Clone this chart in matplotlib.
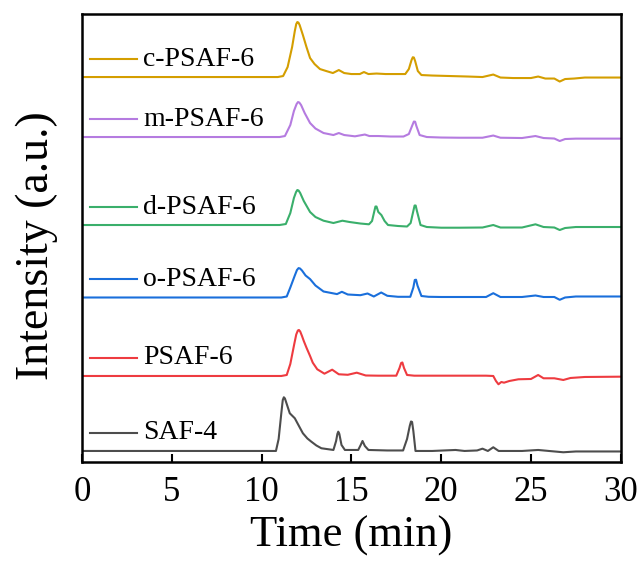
import matplotlib
matplotlib.use('Agg')
import matplotlib.pyplot as plt

# 样品名称 (从下到上)
names = ['SAF-4', 'PSAF-6', 'o-PSAF-6', 'd-PSAF-6', 'm-PSAF-6', 'c-PSAF-6']
colors = ['#4D4D4D', '#EE3B40', '#1A6FDB', '#3AAF6B', '#B57BE0', '#D49E00']

# 各曲线的 时间(min) / 强度(a.u., 相对基线)
t_saf4 = [0, 10.8, 10.95, 11.1, 11.18, 11.24, 11.3, 11.4, 11.57, 11.85, 12.05, 12.3, 12.55, 12.77, 13.05,
          13.33, 14.0, 14.15, 14.22, 14.27, 14.33, 14.45, 14.64, 15.38, 15.52, 15.62, 15.75, 15.95, 17.0,
          17.88, 18.1, 18.25, 18.32, 18.38, 18.45, 18.57, 19.5, 20.8, 21.3, 22.0, 22.3, 22.6, 22.9, 23.2,
          24.5, 25.4, 26.0, 26.8, 27.5, 30]
i_saf4 = [0, 0, 12, 38, 51, 53.7, 52.5, 47, 37.7, 32.7, 26, 17.7, 12.5, 9.3, 5.5,
          2.7, 1, 10, 17, 19.3, 17, 6, 1, 1, 6, 10, 5, 1, 0.5,
          0.5, 12, 25, 29.5, 29, 20, 0, 0, 1, 0, 0.5, 2.3, 0, 3.7, 0,
          0, 1, 0, -1.3, -0.5, -0.5]

t_psaf6 = [0, 11.1, 11.4, 11.6, 11.82, 11.93, 12.02, 12.08, 12.15, 12.25, 12.35, 12.5, 12.7, 12.85, 13.1,
           13.5, 13.93, 14.3, 14.8, 15.3, 15.8, 16.5, 17.5, 17.68, 17.77, 17.84, 17.93, 18.1, 18.5, 19.5,
           21, 22.5, 22.9, 23.05, 23.19, 23.35, 23.5, 23.8, 24.3, 25.0, 25.4, 25.7, 26.3, 26.8, 27.2,
           28, 30]
i_psaf6 = [0, 0, 1, 12, 32, 41.5, 45.5, 46, 44.5, 40, 35, 28.3, 20, 13.3, 6.7,
           2.3, 6.3, 1.7, 1.2, 3.3, 0.5, 0.3, 0.3, 8, 13, 13.5, 8, 1, 0.3, 0.3,
           0.3, 0.3, 0, -5, -8.3, -6, -6.7, -5, -3.3, -3, 1, -2.3, -2.3, -4, -2,
           -1, -0.7]

t_o = [0, 11.1, 11.4, 11.6, 11.85, 11.97, 12.06, 12.14, 12.25, 12.45, 12.7, 13.0, 13.45, 14.2, 14.47,
       14.8, 15.5, 15.9, 16.25, 16.66, 17.0, 17.6, 18.28, 18.45, 18.53, 18.6, 18.68, 18.9, 19.3, 20,
       21.5, 22.5, 22.9, 23.3, 24.5, 25.25, 25.7, 26.3, 26.6, 26.9, 27.5, 30]
i_o = [0, 0, 1, 10, 22, 27.5, 29.4, 29, 27, 22, 18.4, 12, 6, 3.4, 5.7,
       3, 2.3, 4, 1, 5, 1.7, 0.7, 0.7, 10, 17.5, 17.8, 12, 1.5, 0.7, 0.5,
       0.5, 0.5, 4.3, 0.5, 0.5, 2, 0.5, 0.5, -2.3, 0, 1, 1]

t_d = [0, 11.0, 11.35, 11.6, 11.8, 11.92, 11.99, 12.06, 12.15, 12.35, 12.7, 13.0, 13.45, 14.0, 14.5,
       14.9, 15.5, 15.98, 16.15, 16.28, 16.34, 16.4, 16.5, 16.67, 16.85, 17.04, 17.6, 18.1, 18.3, 18.45,
       18.52, 18.58, 18.65, 18.85, 19.2, 20, 21, 22.3, 22.9, 23.3, 24.5, 25.25, 25.7, 26.3, 26.6,
       26.9, 27.5, 30]
i_d = [0, 0, 1, 12, 27, 33, 35, 34.5, 32, 24, 13, 8, 4.3, 2, 4.3,
       3, 1.5, 0.7, 4, 14, 18.5, 18.5, 13, 10, 4, 0, -1, -1.5, 2, 14,
       19.5, 19.5, 14, 0, -2, -2.7, -2.7, -2.5, 0, -2.5, -2.5, 0.7, -2, -2.5, -5,
       -3, -2, -2]

t_m = [0, 11.0, 11.3, 11.6, 11.8, 11.95, 12.03, 12.1, 12.2, 12.4, 12.7, 13.0, 13.45, 14.0, 14.3,
       14.6, 15.2, 15.75, 16.0, 16.5, 17.2, 17.9, 18.2, 18.4, 18.48, 18.55, 18.62, 18.8, 19.2, 20,
       21, 22.3, 22.9, 23.3, 24.5, 25.25, 25.7, 26.3, 26.6, 26.9, 27.5, 30]
i_m = [0, 0, 1, 12, 26, 33, 35, 34.5, 32, 24, 14, 8.5, 4, 2, 4,
       2, 0.7, 2.5, 1, 1, 0.5, 0.5, 3, 12, 15.5, 15.3, 11, 2, 0, -0.5,
       -0.7, -0.7, 1.5, -0.7, -1, 1, -1, -1.5, -4, -2, -1.6, -1.6]

t_c = [0, 10.9, 11.2, 11.45, 11.7, 11.85, 11.93, 11.99, 12.05, 12.12, 12.3, 12.5, 12.7, 12.95, 13.25,
       13.6, 13.97, 14.3, 14.6, 15.0, 15.47, 15.7, 15.95, 16.4, 16.9, 17.4, 18.0, 18.2, 18.35, 18.42,
       18.48, 18.55, 18.7, 18.9, 19.5, 20.5, 21.5, 22.3, 22.9, 23.3, 24.0, 25.0, 25.4, 25.8, 26.3,
       26.6, 26.9, 27.4, 28.0, 30]
i_c = [0, 0, 1, 10, 30, 46, 53, 55, 54.5, 52, 42, 30, 19, 13, 8,
       6, 4, 7, 4, 3, 3, 5, 3, 3.5, 3, 3, 3, 8, 17, 19.8,
       19.5, 16, 6, 2, 1.5, 1, 0.5, 0, 2.5, -0.5, -1, -1, 0.5, -1.5, -1.5,
       -4.5, -2, -1.5, -0.5, -0.5]

times = [t_saf4, t_psaf6, t_o, t_d, t_m, t_c]
intens = [i_saf4, i_psaf6, i_o, i_d, i_m, i_c]

xticks = [0, 5, 10, 15, 20, 25, 30]


def main():
    plt.rcParams['font.family'] = ['Liberation Serif', 'DejaVu Serif']

    fig = plt.figure(figsize=(6.38, 5.62), dpi=100)
    ax = fig.add_axes([0.1285, 0.178, 0.8445, 0.797])

    offsets = [11, 86, 164.5, 237, 325, 385]  # 堆叠偏移
    gap = 18

    for t, y, off, c, name in zip(times, intens, offsets, colors, names):
        ax.plot(t, [v + off for v in y], color=c, lw=1.5, solid_joinstyle='round')
        # 图例样式的标签
        ax.plot([0.45, 3.05], [off + gap, off + gap], color=c, lw=1.5)
        ax.text(3.4, off + gap, name, fontsize=20, va='center', ha='left')

    ax.set_xlim(0, 30)
    ax.set_ylim(0, 448)
    ax.set_xticks(xticks)
    ax.set_yticks([])
    ax.tick_params(axis='x', direction='in', length=6, width=1.5, labelsize=25, pad=10)
    for s in ax.spines.values():
        s.set_linewidth(1.8)

    ax.set_xlabel('Time (min)', fontsize=32, labelpad=5)
    ax.set_ylabel('Intensity (a.u.)', fontsize=33)
    ax.yaxis.set_label_coords(-0.044, 0.483)

    fig.savefig('out.png', dpi=100)


if __name__ == "__main__":
    main()
